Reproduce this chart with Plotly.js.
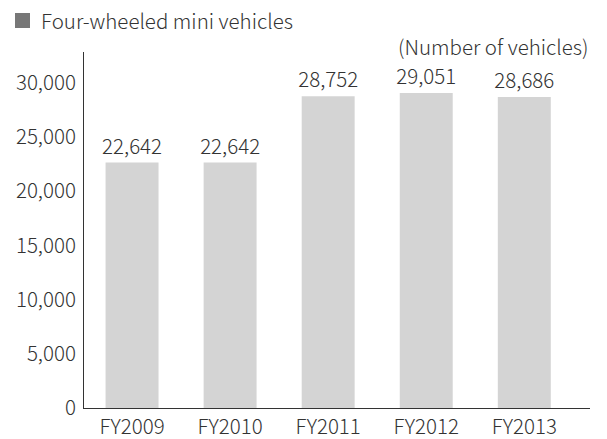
<!DOCTYPE html>
<html>
<head>
<meta charset="utf-8">
<script src="https://cdn.plot.ly/plotly-3.0.1.min.js"></script>
<style>html,body{margin:0;padding:0;background:#fff;}#chart{width:607px;height:439px;}</style>
</head>
<body>
<div id="chart"></div>
<script>
const categories = ["FY2009", "FY2010", "FY2011", "FY2012", "FY2013"];
const values = [22642, 22642, 28752, 29051, 28686];
const yTicks = [0, 5000, 10000, 15000, 20000, 25000, 30000];
const seriesName = "Four-wheeled mini vehicles";
const unitLabel = "(Number of vehicles)";

const FONT = "'Noto Sans CJK JP', 'Noto Sans', sans-serif";
const TXT = "#333333";
const FS = 20.5;
const W = 300;

const trace = {
  type: "bar",
  x: categories,
  y: values,
  name: seriesName,
  marker: {color: "#d4d4d4"},
  text: values.map(v => v.toLocaleString("en-US")),
  textposition: "outside",
  constraintext: "none",
  cliponaxis: false,
  textfont: {family: FONT, size: FS, color: TXT, weight: W},
  hoverinfo: "none"
};

const layout = {
  width: 607, height: 439,
  margin: {l: 84, r: 17, t: 52, b: 31},
  paper_bgcolor: "#fff", plot_bgcolor: "#fff",
  showlegend: false,
  bargap: 0.46,
  font: {family: FONT, size: FS, color: TXT, weight: W},
  xaxis: {
    type: "category",
    range: [-0.49, 4.67],
    showline: true, linecolor: "#333", linewidth: 1,
    ticks: "", showgrid: false, zeroline: false,
    tickfont: {family: FONT, size: FS, color: TXT, weight: W},
    ticklabelstandoff: 0,
    fixedrange: true
  },
  yaxis: {
    range: [0, 32840],
    tickvals: yTicks,
    ticktext: yTicks.map(v => v.toLocaleString("en-US")),
    showline: true, linecolor: "#333", linewidth: 1,
    ticks: "", showgrid: false, zeroline: false,
    tickfont: {family: FONT, size: FS, color: TXT, weight: W},
    ticklabelstandoff: 3,
    fixedrange: true
  },
  shapes: [{
    type: "rect", xref: "paper", yref: "paper",
    x0: -0.1364, x1: -0.1067, y0: 1.0674, y1: 1.1096,
    fillcolor: "#777777", line: {width: 0}
  }],
  annotations: [
    {xref: "paper", yref: "paper", x: -0.089, y: 1.09, xanchor: "left", yanchor: "middle",
     text: seriesName, showarrow: false, font: {family: FONT, size: FS, color: TXT, weight: W}},
    {xref: "paper", yref: "paper", x: 1.0, y: 1.017, xanchor: "right", yanchor: "middle",
     text: unitLabel, showarrow: false, font: {family: FONT, size: FS, color: TXT, weight: W}}
  ]
};

Plotly.newPlot("chart", [trace], layout, {displayModeBar: false, staticPlot: true});
</script>
</body>
</html>
